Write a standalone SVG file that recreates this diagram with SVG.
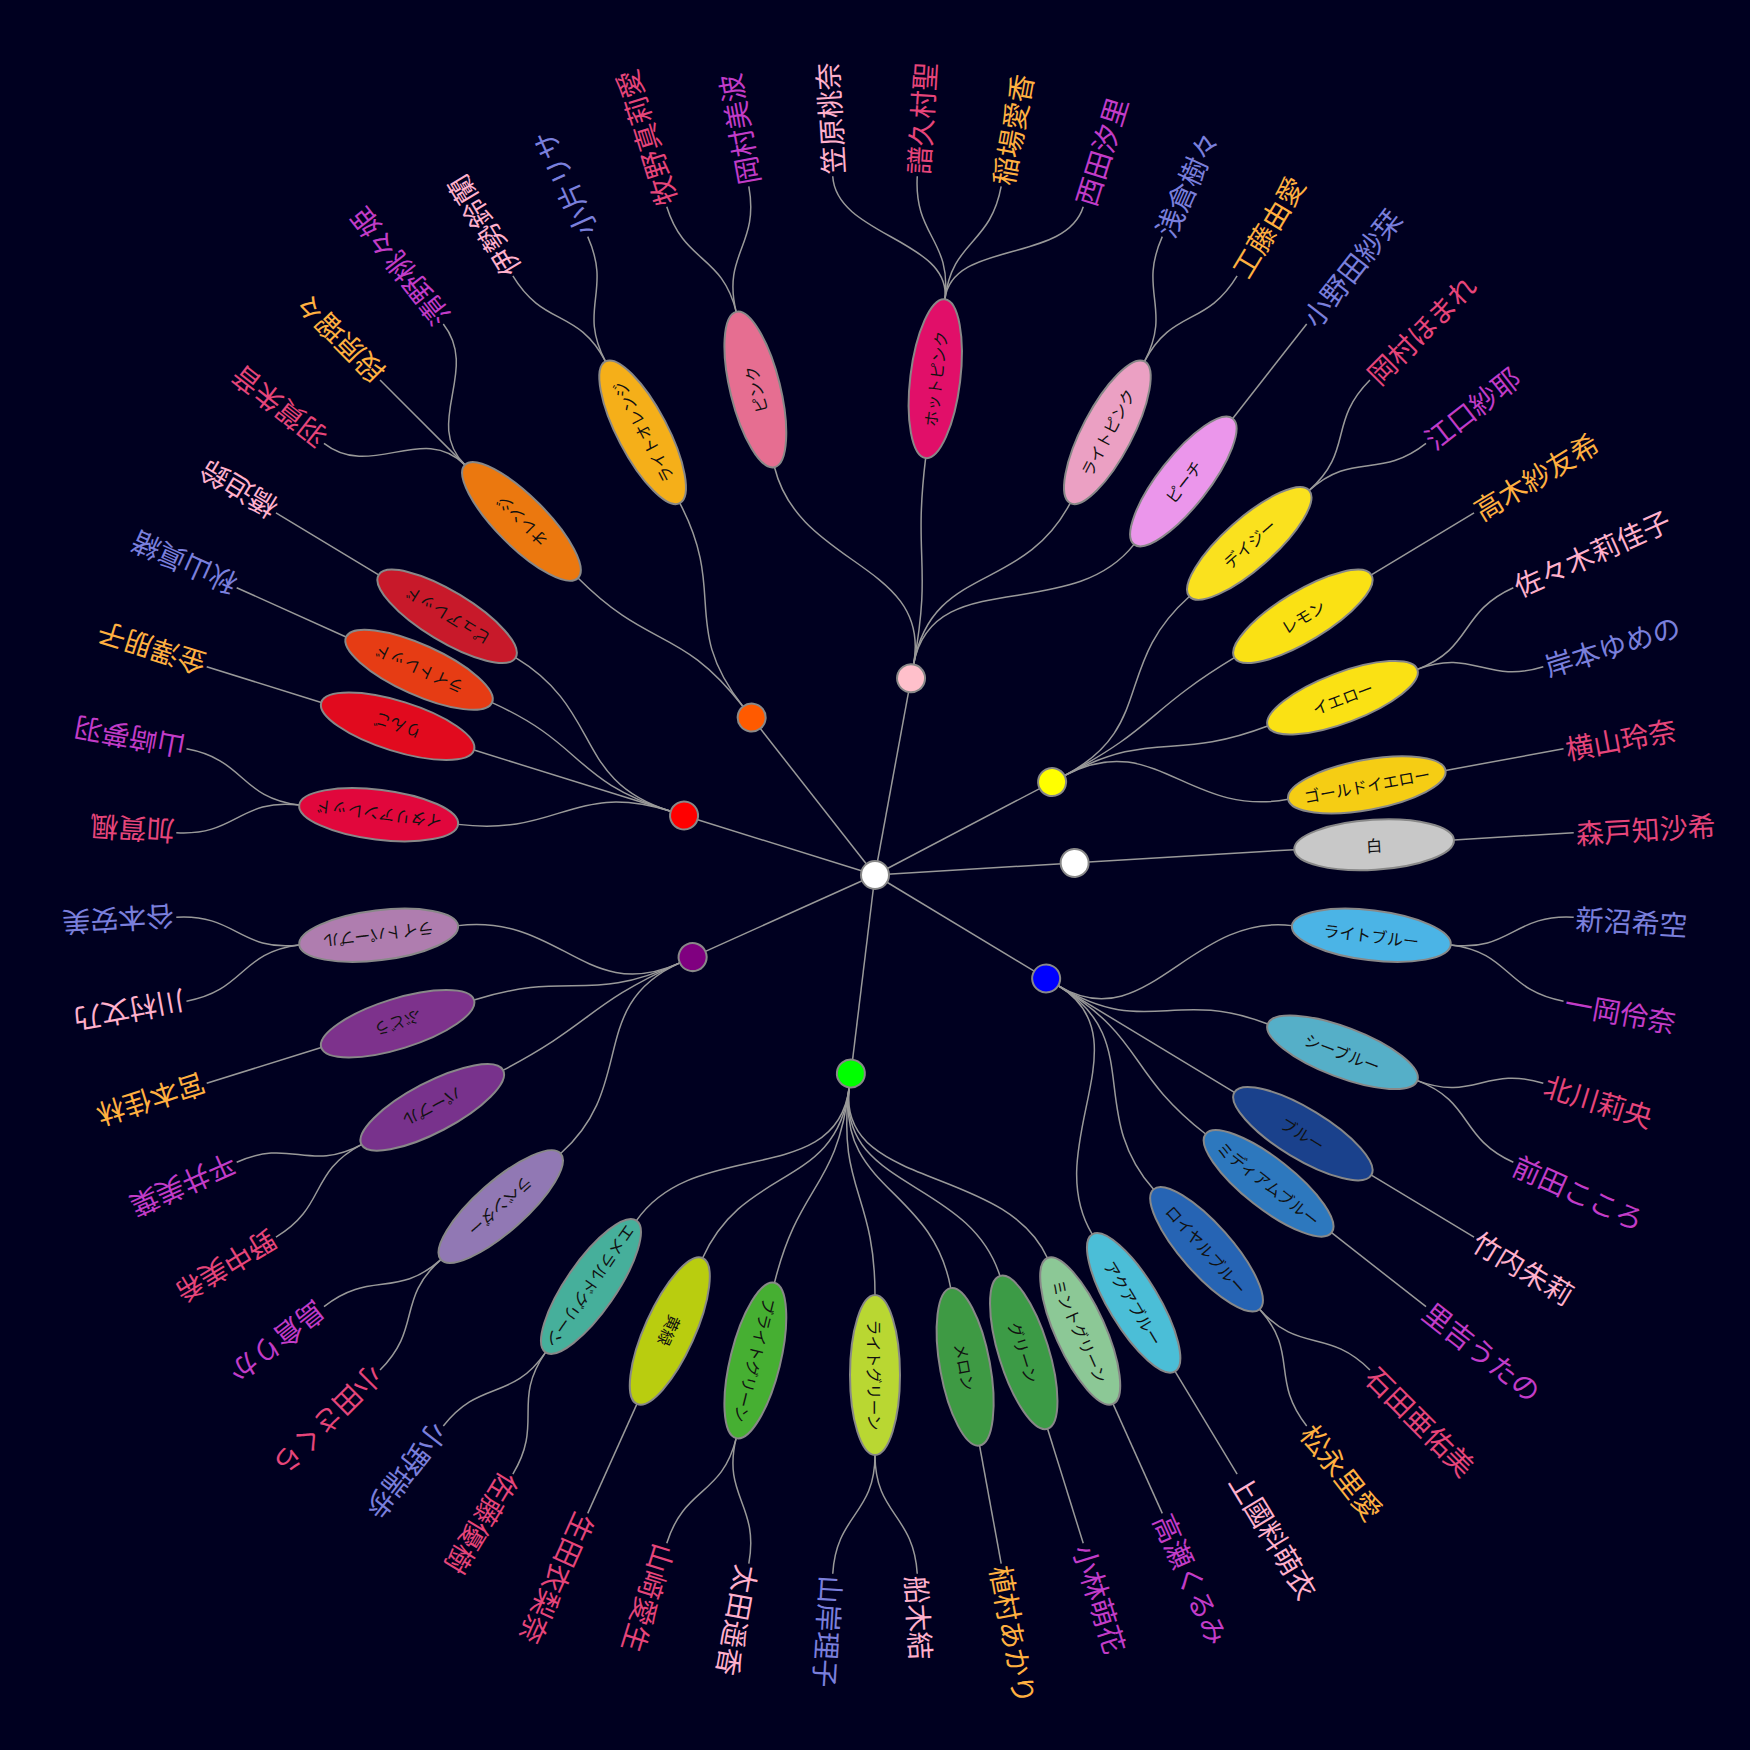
<svg xmlns="http://www.w3.org/2000/svg" width="1750" height="1750" viewBox="0 0 1750 1750">
<style>
.lk{fill:none;stroke:#999;stroke-width:1.5}
.nd{stroke:#888;stroke-width:2}
.et{font-family:"Noto Sans CJK JP","Noto Sans",sans-serif;font-size:16px;fill:#111;text-anchor:middle;dominant-baseline:central}
.lt{font-family:"Noto Sans CJK JP","Noto Sans",sans-serif;font-size:28px;dominant-baseline:central}
.M{fill:#E6457A}.A{fill:#FFB0CC}.J{fill:#FFB040}.T{fill:#7A7FDC}.B{fill:#C23CC8}
</style>
<rect width="1750" height="1750" fill="#000020"/>
<g id="connectors" transform="translate(875 875)">
<path class="lk" transform="rotate(-3.4615)" d="M0,0L200,0"/>
<path class="lk" transform="rotate(31.1538)" d="M0,0L200,0"/>
<path class="lk" transform="rotate(96.9231)" d="M0,0L200,0"/>
<path class="lk" transform="rotate(155.7692)" d="M0,0L200,0"/>
<path class="lk" transform="rotate(197.3077)" d="M0,0L200,0"/>
<path class="lk" transform="rotate(231.9231)" d="M0,0L200,0"/>
<path class="lk" transform="rotate(280.3846)" d="M0,0L200,0"/>
<path class="lk" transform="rotate(332.3077)" d="M0,0L200,0"/>
<path class="lk" transform="rotate(-3.4615)" d="M214,0L420,0"/>
<path class="lk" transform="rotate(31.1538)" d="M214,0C317,0 289.07,-130.10 383.00,-172.37"/>
<path class="lk" transform="rotate(31.1538)" d="M214,0C317,0 311.81,-57.14 413.12,-75.71"/>
<path class="lk" transform="rotate(31.1538)" d="M214,0L420,0"/>
<path class="lk" transform="rotate(31.1538)" d="M214,0C317,0 314.69,38.21 416.94,50.63"/>
<path class="lk" transform="rotate(31.1538)" d="M214,0C317,0 302.65,94.31 400.98,124.95"/>
<path class="lk" transform="rotate(31.1538)" d="M214,0C317,0 280.69,147.32 371.89,195.18"/>
<path class="lk" transform="rotate(96.9231)" d="M214,0C317,0 271.28,-164.00 359.43,-217.28"/>
<path class="lk" transform="rotate(96.9231)" d="M214,0C317,0 289.07,-130.10 383.00,-172.37"/>
<path class="lk" transform="rotate(96.9231)" d="M214,0C317,0 302.65,-94.31 400.98,-124.95"/>
<path class="lk" transform="rotate(96.9231)" d="M214,0C317,0 314.69,-38.21 416.94,-50.63"/>
<path class="lk" transform="rotate(96.9231)" d="M214,0C317,0 314.69,38.21 416.94,50.63"/>
<path class="lk" transform="rotate(96.9231)" d="M214,0C317,0 302.65,94.31 400.98,124.95"/>
<path class="lk" transform="rotate(96.9231)" d="M214,0C317,0 280.69,147.32 371.89,195.18"/>
<path class="lk" transform="rotate(155.7692)" d="M214,0C317,0 302.65,-94.31 400.98,-124.95"/>
<path class="lk" transform="rotate(155.7692)" d="M214,0C317,0 316.42,-19.14 419.23,-25.36"/>
<path class="lk" transform="rotate(155.7692)" d="M214,0C317,0 314.69,38.21 416.94,50.63"/>
<path class="lk" transform="rotate(155.7692)" d="M214,0C317,0 302.65,94.31 400.98,124.95"/>
<path class="lk" transform="rotate(197.3077)" d="M214,0C317,0 311.81,-57.14 413.12,-75.71"/>
<path class="lk" transform="rotate(197.3077)" d="M214,0L420,0"/>
<path class="lk" transform="rotate(197.3077)" d="M214,0C317,0 314.69,38.21 416.94,50.63"/>
<path class="lk" transform="rotate(197.3077)" d="M214,0C317,0 307.79,75.86 407.80,100.51"/>
<path class="lk" transform="rotate(231.9231)" d="M214,0C317,0 314.69,-38.21 416.94,-50.63"/>
<path class="lk" transform="rotate(231.9231)" d="M214,0C317,0 311.81,57.14 413.12,75.71"/>
<path class="lk" transform="rotate(280.3846)" d="M214,0C317,0 289.07,-130.10 383.00,-172.37"/>
<path class="lk" transform="rotate(280.3846)" d="M214,0C317,0 316.42,-19.14 419.23,-25.36"/>
<path class="lk" transform="rotate(280.3846)" d="M214,0C317,0 302.65,94.31 400.98,124.95"/>
<path class="lk" transform="rotate(280.3846)" d="M214,0C317,0 280.69,147.32 371.89,195.18"/>
<path class="lk" transform="rotate(332.3077)" d="M214,0C317,0 307.79,-75.86 407.80,-100.51"/>
<path class="lk" transform="rotate(332.3077)" d="M214,0C317,0 316.42,-19.14 419.23,-25.36"/>
<path class="lk" transform="rotate(332.3077)" d="M214,0C317,0 314.69,38.21 416.94,50.63"/>
<path class="lk" transform="rotate(332.3077)" d="M214,0C317,0 302.65,94.31 400.98,124.95"/>
<path class="lk" transform="rotate(-3.4615)" d="M580,0L700,0"/>
<path class="lk" transform="rotate(6.9231)" d="M580,0C640,0 638.83,-38.64 698.72,-42.26"/>
<path class="lk" transform="rotate(6.9231)" d="M580,0C640,0 638.83,38.64 698.72,42.26"/>
<path class="lk" transform="rotate(20.7692)" d="M580,0C640,0 638.83,-38.64 698.72,-42.26"/>
<path class="lk" transform="rotate(20.7692)" d="M580,0C640,0 638.83,38.64 698.72,42.26"/>
<path class="lk" transform="rotate(31.1538)" d="M580,0L700,0"/>
<path class="lk" transform="rotate(38.0769)" d="M580,0L700,0"/>
<path class="lk" transform="rotate(48.4615)" d="M580,0C640,0 638.83,-38.64 698.72,-42.26"/>
<path class="lk" transform="rotate(48.4615)" d="M580,0C640,0 638.83,38.64 698.72,42.26"/>
<path class="lk" transform="rotate(58.8462)" d="M580,0L700,0"/>
<path class="lk" transform="rotate(65.7692)" d="M580,0L700,0"/>
<path class="lk" transform="rotate(72.6923)" d="M580,0L700,0"/>
<path class="lk" transform="rotate(79.6154)" d="M580,0L700,0"/>
<path class="lk" transform="rotate(90)" d="M580,0C640,0 638.83,-38.64 698.72,-42.26"/>
<path class="lk" transform="rotate(90)" d="M580,0C640,0 638.83,38.64 698.72,42.26"/>
<path class="lk" transform="rotate(103.8462)" d="M580,0C640,0 638.83,-38.64 698.72,-42.26"/>
<path class="lk" transform="rotate(103.8462)" d="M580,0C640,0 638.83,38.64 698.72,42.26"/>
<path class="lk" transform="rotate(114.2308)" d="M580,0L700,0"/>
<path class="lk" transform="rotate(124.6154)" d="M580,0C640,0 638.83,-38.64 698.72,-42.26"/>
<path class="lk" transform="rotate(124.6154)" d="M580,0C640,0 638.83,38.64 698.72,42.26"/>
<path class="lk" transform="rotate(138.4615)" d="M580,0C640,0 638.83,-38.64 698.72,-42.26"/>
<path class="lk" transform="rotate(138.4615)" d="M580,0C640,0 638.83,38.64 698.72,42.26"/>
<path class="lk" transform="rotate(152.3077)" d="M580,0C640,0 638.83,-38.64 698.72,-42.26"/>
<path class="lk" transform="rotate(152.3077)" d="M580,0C640,0 638.83,38.64 698.72,42.26"/>
<path class="lk" transform="rotate(162.6923)" d="M580,0L700,0"/>
<path class="lk" transform="rotate(173.0769)" d="M580,0C640,0 638.83,-38.64 698.72,-42.26"/>
<path class="lk" transform="rotate(173.0769)" d="M580,0C640,0 638.83,38.64 698.72,42.26"/>
<path class="lk" transform="rotate(186.9231)" d="M580,0C640,0 638.83,-38.64 698.72,-42.26"/>
<path class="lk" transform="rotate(186.9231)" d="M580,0C640,0 638.83,38.64 698.72,42.26"/>
<path class="lk" transform="rotate(197.3077)" d="M580,0L700,0"/>
<path class="lk" transform="rotate(204.2308)" d="M580,0L700,0"/>
<path class="lk" transform="rotate(211.1538)" d="M580,0L700,0"/>
<path class="lk" transform="rotate(225)" d="M580,0C640,0 635.33,-77.14 694.90,-84.38"/>
<path class="lk" transform="rotate(225)" d="M580,0L700,0"/>
<path class="lk" transform="rotate(225)" d="M580,0C640,0 635.33,77.14 694.90,84.38"/>
<path class="lk" transform="rotate(242.3077)" d="M580,0C640,0 638.83,-38.64 698.72,-42.26"/>
<path class="lk" transform="rotate(242.3077)" d="M580,0C640,0 638.83,38.64 698.72,42.26"/>
<path class="lk" transform="rotate(256.1538)" d="M580,0C640,0 638.83,-38.64 698.72,-42.26"/>
<path class="lk" transform="rotate(256.1538)" d="M580,0C640,0 638.83,38.64 698.72,42.26"/>
<path class="lk" transform="rotate(276.9231)" d="M580,0C640,0 629.52,-115.36 688.53,-126.18"/>
<path class="lk" transform="rotate(276.9231)" d="M580,0C640,0 638.83,-38.64 698.72,-42.26"/>
<path class="lk" transform="rotate(276.9231)" d="M580,0C640,0 638.83,38.64 698.72,42.26"/>
<path class="lk" transform="rotate(276.9231)" d="M580,0C640,0 629.52,115.36 688.53,126.18"/>
<path class="lk" transform="rotate(297.6923)" d="M580,0C640,0 638.83,-38.64 698.72,-42.26"/>
<path class="lk" transform="rotate(297.6923)" d="M580,0C640,0 638.83,38.64 698.72,42.26"/>
<path class="lk" transform="rotate(308.0769)" d="M580,0L700,0"/>
<path class="lk" transform="rotate(318.4615)" d="M580,0C640,0 638.83,-38.64 698.72,-42.26"/>
<path class="lk" transform="rotate(318.4615)" d="M580,0C640,0 638.83,38.64 698.72,42.26"/>
<path class="lk" transform="rotate(328.8462)" d="M580,0L700,0"/>
<path class="lk" transform="rotate(339.2308)" d="M580,0C640,0 638.83,-38.64 698.72,-42.26"/>
<path class="lk" transform="rotate(339.2308)" d="M580,0C640,0 638.83,38.64 698.72,42.26"/>
<path class="lk" transform="rotate(349.6154)" d="M580,0L700,0"/>
</g>
<g id="root"><circle class="nd" cx="875" cy="875" r="14" fill="#FFFFFF"/></g>
<g id="hub-white"><circle class="nd" cx="1075" cy="875" r="14" fill="#FFFFFF" transform="rotate(-3.4615 875 875)"/></g>
<g id="hub-blue"><circle class="nd" cx="1075" cy="875" r="14" fill="#0000FF" transform="rotate(31.1538 875 875)"/></g>
<g id="hub-green"><circle class="nd" cx="1075" cy="875" r="14" fill="#00FF00" transform="rotate(96.9231 875 875)"/></g>
<g id="hub-purple"><circle class="nd" cx="1075" cy="875" r="14" fill="#800080" transform="rotate(155.7692 875 875)"/></g>
<g id="hub-red"><circle class="nd" cx="1075" cy="875" r="14" fill="#FF0000" transform="rotate(197.3077 875 875)"/></g>
<g id="hub-orange"><circle class="nd" cx="1075" cy="875" r="14" fill="#FF5A00" transform="rotate(231.9231 875 875)"/></g>
<g id="hub-pink"><circle class="nd" cx="1075" cy="875" r="14" fill="#FFC0CB" transform="rotate(280.3846 875 875)"/></g>
<g id="hub-yellow"><circle class="nd" cx="1075" cy="875" r="14" fill="#FFFF00" transform="rotate(332.3077 875 875)"/></g>
<g id="e01" transform="rotate(-3.4615 875 875)"><ellipse class="nd" cx="1375" cy="875" rx="80" ry="25" fill="#C8C8C8"/><text class="et" x="1375" y="875">白</text></g>
<g id="e02" transform="rotate(6.9231 875 875)"><ellipse class="nd" cx="1375" cy="875" rx="80" ry="25" fill="#4BB4E6"/><text class="et" x="1375" y="875">ライトブルー</text></g>
<g id="e03" transform="rotate(20.7692 875 875)"><ellipse class="nd" cx="1375" cy="875" rx="80" ry="25" fill="#55AFC8"/><text class="et" x="1375" y="875">シーブルー</text></g>
<g id="e04" transform="rotate(31.1538 875 875)"><ellipse class="nd" cx="1375" cy="875" rx="80" ry="25" fill="#1A418C"/><text class="et" x="1375" y="875">ブルー</text></g>
<g id="e05" transform="rotate(38.0769 875 875)"><ellipse class="nd" cx="1375" cy="875" rx="80" ry="25" fill="#2D78BE"/><text class="et" x="1375" y="875">ミディアムブルー</text></g>
<g id="e06" transform="rotate(48.4615 875 875)"><ellipse class="nd" cx="1375" cy="875" rx="80" ry="25" fill="#2664B4"/><text class="et" x="1375" y="875">ロイヤルブルー</text></g>
<g id="e07" transform="rotate(58.8462 875 875)"><ellipse class="nd" cx="1375" cy="875" rx="80" ry="25" fill="#4BBED7"/><text class="et" x="1375" y="875">アクアブルー</text></g>
<g id="e08" transform="rotate(65.7692 875 875)"><ellipse class="nd" cx="1375" cy="875" rx="80" ry="25" fill="#8CC896"/><text class="et" x="1375" y="875">ミントグリーン</text></g>
<g id="e09" transform="rotate(72.6923 875 875)"><ellipse class="nd" cx="1375" cy="875" rx="80" ry="25" fill="#3C9B46"/><text class="et" x="1375" y="875">グリーン</text></g>
<g id="e10" transform="rotate(79.6154 875 875)"><ellipse class="nd" cx="1375" cy="875" rx="80" ry="25" fill="#3E9A44"/><text class="et" x="1375" y="875">メロン</text></g>
<g id="e11" transform="rotate(90 875 875)"><ellipse class="nd" cx="1375" cy="875" rx="80" ry="25" fill="#B9D732"/><text class="et" x="1375" y="875">ライトグリーン</text></g>
<g id="e12" transform="rotate(103.8462 875 875)"><ellipse class="nd" cx="1375" cy="875" rx="80" ry="25" fill="#46AF32"/><text class="et" x="1375" y="875">ブライトグリーン</text></g>
<g id="e13" transform="rotate(114.2308 875 875)"><ellipse class="nd" cx="1375" cy="875" rx="80" ry="25" fill="#B9CD0F"/><text class="et" x="1375" y="875">黄緑</text></g>
<g id="e14" transform="rotate(124.6154 875 875)"><ellipse class="nd" cx="1375" cy="875" rx="80" ry="25" fill="#46AF9B"/><text class="et" x="1375" y="875">エメラルドグリーン</text></g>
<g id="e15" transform="rotate(138.4615 875 875)"><ellipse class="nd" cx="1375" cy="875" rx="80" ry="25" fill="#9178B4"/><text class="et" x="1375" y="875">ラベンダー</text></g>
<g id="e16" transform="rotate(152.3077 875 875)"><ellipse class="nd" cx="1375" cy="875" rx="80" ry="25" fill="#78328C"/><text class="et" x="1375" y="875">パープル</text></g>
<g id="e17" transform="rotate(162.6923 875 875)"><ellipse class="nd" cx="1375" cy="875" rx="80" ry="25" fill="#7D328C"/><text class="et" x="1375" y="875">ぶどう</text></g>
<g id="e18" transform="rotate(173.0769 875 875)"><ellipse class="nd" cx="1375" cy="875" rx="80" ry="25" fill="#AF7DAF"/><text class="et" x="1375" y="875">ライトパープル</text></g>
<g id="e19" transform="rotate(186.9231 875 875)"><ellipse class="nd" cx="1375" cy="875" rx="80" ry="25" fill="#E1073C"/><text class="et" x="1375" y="875">イタリアンレッド</text></g>
<g id="e20" transform="rotate(197.3077 875 875)"><ellipse class="nd" cx="1375" cy="875" rx="80" ry="25" fill="#E10A1E"/><text class="et" x="1375" y="875">りんご</text></g>
<g id="e21" transform="rotate(204.2308 875 875)"><ellipse class="nd" cx="1375" cy="875" rx="80" ry="25" fill="#E63C14"/><text class="et" x="1375" y="875">ライトレッド</text></g>
<g id="e22" transform="rotate(211.1538 875 875)"><ellipse class="nd" cx="1375" cy="875" rx="80" ry="25" fill="#C8192A"/><text class="et" x="1375" y="875">ピュアレッド</text></g>
<g id="e23" transform="rotate(225 875 875)"><ellipse class="nd" cx="1375" cy="875" rx="80" ry="25" fill="#EB780F"/><text class="et" x="1375" y="875">オレンジ</text></g>
<g id="e24" transform="rotate(242.3077 875 875)"><ellipse class="nd" cx="1375" cy="875" rx="80" ry="25" fill="#F5AF19"/><text class="et" x="1375" y="875">ライトオレンジ</text></g>
<g id="e25" transform="rotate(256.1538 875 875)"><ellipse class="nd" cx="1375" cy="875" rx="80" ry="25" fill="#E66E91"/><text class="et" x="1375" y="875">ピンク</text></g>
<g id="e26" transform="rotate(276.9231 875 875)"><ellipse class="nd" cx="1375" cy="875" rx="80" ry="25" fill="#E10F69"/><text class="et" x="1375" y="875">ホットピンク</text></g>
<g id="e27" transform="rotate(297.6923 875 875)"><ellipse class="nd" cx="1375" cy="875" rx="80" ry="25" fill="#EBA0C3"/><text class="et" x="1375" y="875">ライトピンク</text></g>
<g id="e28" transform="rotate(308.0769 875 875)"><ellipse class="nd" cx="1375" cy="875" rx="80" ry="25" fill="#EB96EB"/><text class="et" x="1375" y="875">ピーチ</text></g>
<g id="e29" transform="rotate(318.4615 875 875)"><ellipse class="nd" cx="1375" cy="875" rx="80" ry="25" fill="#FAE11E"/><text class="et" x="1375" y="875">デイジー</text></g>
<g id="e30" transform="rotate(328.8462 875 875)"><ellipse class="nd" cx="1375" cy="875" rx="80" ry="25" fill="#FAE114"/><text class="et" x="1375" y="875">レモン</text></g>
<g id="e31" transform="rotate(339.2308 875 875)"><ellipse class="nd" cx="1375" cy="875" rx="80" ry="25" fill="#FAE114"/><text class="et" x="1375" y="875">イエロー</text></g>
<g id="e32" transform="rotate(349.6154 875 875)"><ellipse class="nd" cx="1375" cy="875" rx="80" ry="25" fill="#F5CD14"/><text class="et" x="1375" y="875">ゴールドイエロー</text></g>
<g id="l00"><text class="lt M" x="1577" y="875" transform="rotate(-3.4615 875 875)">森戸知沙希</text></g>
<g id="l01"><text class="lt T" x="1577" y="875" transform="rotate(3.4615 875 875)">新沼希空</text></g>
<g id="l02"><text class="lt B" x="1577" y="875" transform="rotate(10.3846 875 875)">一岡伶奈</text></g>
<g id="l03"><text class="lt M" x="1577" y="875" transform="rotate(17.3077 875 875)">北川莉央</text></g>
<g id="l04"><text class="lt B" x="1577" y="875" transform="rotate(24.2308 875 875)">前田こころ</text></g>
<g id="l05"><text class="lt A" x="1577" y="875" transform="rotate(31.1538 875 875)">竹内朱莉</text></g>
<g id="l06"><text class="lt B" x="1577" y="875" transform="rotate(38.0769 875 875)">里吉うたの</text></g>
<g id="l07"><text class="lt M" x="1577" y="875" transform="rotate(45 875 875)">石田亜佑美</text></g>
<g id="l08"><text class="lt J" x="1577" y="875" transform="rotate(51.9231 875 875)">松永里愛</text></g>
<g id="l09"><text class="lt A" x="1577" y="875" transform="rotate(58.8462 875 875)">上國料萌衣</text></g>
<g id="l10"><text class="lt B" x="1577" y="875" transform="rotate(65.7692 875 875)">高瀬くるみ</text></g>
<g id="l11"><text class="lt B" x="1577" y="875" transform="rotate(72.6923 875 875)">小林萌花</text></g>
<g id="l12"><text class="lt J" x="1577" y="875" transform="rotate(79.6154 875 875)">植村あかり</text></g>
<g id="l13"><text class="lt A" x="1577" y="875" transform="rotate(86.5385 875 875)">船木結</text></g>
<g id="l14"><text class="lt T" x="1577" y="875" transform="rotate(93.4615 875 875)">山岸理子</text></g>
<g id="l15"><text class="lt A" x="1577" y="875" transform="rotate(100.3846 875 875)">太田遥香</text></g>
<g id="l16"><text class="lt M" x="1577" y="875" transform="rotate(107.3077 875 875)">山﨑愛生</text></g>
<g id="l17"><text class="lt M" x="1577" y="875" transform="rotate(114.2308 875 875)">生田衣梨奈</text></g>
<g id="l18"><text class="lt M" x="1577" y="875" transform="rotate(121.1538 875 875)">佐藤優樹</text></g>
<g id="l19"><text class="lt T" x="1577" y="875" transform="rotate(128.0769 875 875)">小野瑞歩</text></g>
<g id="l20"><text class="lt M" x="1577" y="875" transform="rotate(135 875 875)">小田さくら</text></g>
<g id="l21"><text class="lt B" x="1577" y="875" transform="rotate(141.9231 875 875)">島倉りか</text></g>
<g id="l22"><text class="lt M" x="1577" y="875" transform="rotate(148.8462 875 875)">野中美希</text></g>
<g id="l23"><text class="lt B" x="1577" y="875" transform="rotate(155.7692 875 875)">平井美葉</text></g>
<g id="l24"><text class="lt J" x="1577" y="875" transform="rotate(162.6923 875 875)">宮本佳林</text></g>
<g id="l25"><text class="lt A" x="1577" y="875" transform="rotate(169.6154 875 875)">川村文乃</text></g>
<g id="l26"><text class="lt T" x="1577" y="875" transform="rotate(176.5385 875 875)">谷本安美</text></g>
<g id="l27"><text class="lt M" x="1577" y="875" transform="rotate(183.4615 875 875)">加賀楓</text></g>
<g id="l28"><text class="lt B" x="1577" y="875" transform="rotate(190.3846 875 875)">山﨑夢羽</text></g>
<g id="l29"><text class="lt J" x="1577" y="875" transform="rotate(197.3077 875 875)">金澤朋子</text></g>
<g id="l30"><text class="lt T" x="1577" y="875" transform="rotate(204.2308 875 875)">秋山眞緒</text></g>
<g id="l31"><text class="lt A" x="1577" y="875" transform="rotate(211.1538 875 875)">橋迫鈴</text></g>
<g id="l32"><text class="lt M" x="1577" y="875" transform="rotate(218.0769 875 875)">羽賀朱音</text></g>
<g id="l33"><text class="lt J" x="1577" y="875" transform="rotate(225 875 875)">段原瑠々</text></g>
<g id="l34"><text class="lt B" x="1577" y="875" transform="rotate(231.9231 875 875)">清野桃々姫</text></g>
<g id="l35"><text class="lt A" x="1577" y="875" transform="rotate(238.8462 875 875)">伊勢鈴蘭</text></g>
<g id="l36"><text class="lt T" x="1577" y="875" transform="rotate(245.7692 875 875)">小片リサ</text></g>
<g id="l37"><text class="lt M" x="1577" y="875" transform="rotate(252.6923 875 875)">牧野真莉愛</text></g>
<g id="l38"><text class="lt B" x="1577" y="875" transform="rotate(259.6154 875 875)">岡村美波</text></g>
<g id="l39"><text class="lt A" x="1577" y="875" transform="rotate(266.5385 875 875)">笠原桃奈</text></g>
<g id="l40"><text class="lt M" x="1577" y="875" transform="rotate(273.4615 875 875)">譜久村聖</text></g>
<g id="l41"><text class="lt J" x="1577" y="875" transform="rotate(280.3846 875 875)">稲場愛香</text></g>
<g id="l42"><text class="lt B" x="1577" y="875" transform="rotate(287.3077 875 875)">西田汐里</text></g>
<g id="l43"><text class="lt T" x="1577" y="875" transform="rotate(294.2308 875 875)">浅倉樹々</text></g>
<g id="l44"><text class="lt J" x="1577" y="875" transform="rotate(301.1538 875 875)">工藤由愛</text></g>
<g id="l45"><text class="lt T" x="1577" y="875" transform="rotate(308.0769 875 875)">小野田紗栞</text></g>
<g id="l46"><text class="lt M" x="1577" y="875" transform="rotate(315 875 875)">岡村ほまれ</text></g>
<g id="l47"><text class="lt B" x="1577" y="875" transform="rotate(321.9231 875 875)">江口紗耶</text></g>
<g id="l48"><text class="lt J" x="1577" y="875" transform="rotate(328.8462 875 875)">高木紗友希</text></g>
<g id="l49"><text class="lt A" x="1577" y="875" transform="rotate(335.7692 875 875)">佐々木莉佳子</text></g>
<g id="l50"><text class="lt T" x="1577" y="875" transform="rotate(342.6923 875 875)">岸本ゆめの</text></g>
<g id="l51"><text class="lt M" x="1577" y="875" transform="rotate(349.6154 875 875)">横山玲奈</text></g>
</svg>
